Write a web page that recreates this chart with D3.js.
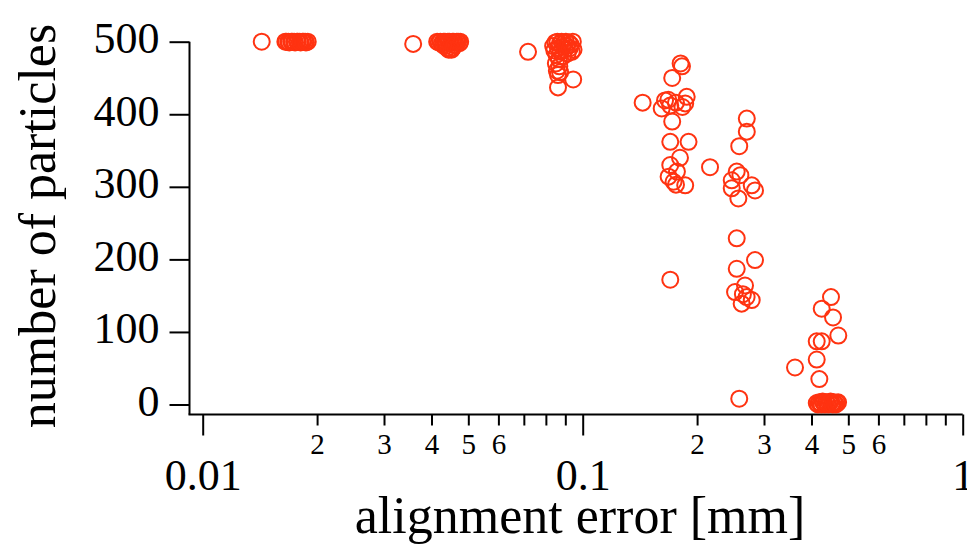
<!DOCTYPE html>
<html>
<head>
<meta charset="utf-8">
<script src="https://cdn.jsdelivr.net/npm/d3@7/dist/d3.min.js"></script>
<style>
  html, body { margin: 0; padding: 0; background: #fff; }
  svg { display: block; }
  text { font-family: "Liberation Serif", "Times New Roman", serif; fill: #000; }
</style>
</head>
<body>
<svg id="chart" width="967" height="547"></svg>
<script>
// ---- data: [alignment error (mm), number of particles] ----
const run1 = [[0.0143,500],[0.0165,500],[0.0166,500],[0.0168,500],[0.0169,499],[0.0171,500],[0.0172,500],
  [0.0174,500],[0.0175,499],[0.0177,500],[0.0178,500],[0.0180,500],[0.0181,499],[0.0183,500],[0.0184,500],
  [0.0186,500],[0.0187,499],[0.0189,500]];
const run2 = [[0.0358,497],[0.0414,500],[0.0418,499],[0.0422,500],[0.0426,498],[0.0430,500],[0.0434,500],
  [0.0438,499],[0.0442,500],[0.0446,500],[0.0450,498],[0.0454,500],[0.0458,500],[0.0462,499],[0.0466,500],
  [0.0470,500],[0.0474,498],[0.0476,500],[0.0436,494],[0.0440,491],[0.0444,489],[0.0448,490],[0.0452,489],
  [0.0456,492],[0.0430,495],[0.0460,495]];
const run3 = [[0.0718,486],[0.0836,494],[0.0842,488],[0.0848,499],[0.0853,482],[0.0858,500],[0.0862,491],
  [0.0866,476],[0.0870,497],[0.0875,486],[0.0880,500],[0.0884,493],[0.0889,480],[0.0893,498],[0.0898,489],
  [0.0903,500],[0.0908,494],[0.0913,484],[0.0918,499],[0.0924,491],[0.0930,496],[0.0936,486],[0.0942,500],
  [0.0946,489],[0.0850,470],[0.0868,466],[0.0855,460],[0.0861,454],[0.0872,458],[0.0861,437],[0.0944,448]];
const run4 = [[0.1438,416],[0.1614,408],[0.1647,419],[0.1680,420],[0.1700,412],[0.1760,416],[0.1830,410],
  [0.1878,424],[0.1861,415],[0.1720,390],[0.1720,450],[0.1810,470],[0.1825,466],[0.1700,362],[0.1899,362],
  [0.1803,340],[0.1700,330],[0.1770,321],[0.1683,314],[0.1734,307],[0.1861,302],[0.1760,303],[0.2163,327],
  [0.1700,172]];
const run5 = [[0.2703,394],[0.2703,376],[0.2582,356],[0.2543,321],[0.2600,316],[0.2467,309],[0.2467,298],
  [0.2785,302],[0.2841,295],[0.2568,284],[0.2543,229],[0.2841,199],[0.2543,187],[0.2517,155],[0.2674,164],
  [0.2620,139],[0.2785,144],[0.2700,148],[0.2640,152],[0.2582,8]];
const run6 = [[0.3620,51],[0.4502,148],[0.4256,132],[0.4558,120],[0.4706,95],[0.4129,87],[0.4256,87],
  [0.4129,62],[0.4195,35],[0.413,2],[0.416,0],[0.419,3],[0.422,1],[0.425,0],[0.428,4],[0.431,2],[0.434,0],
  [0.437,3],[0.440,1],[0.443,0],[0.446,2],[0.449,4],[0.452,1],[0.455,0],[0.458,3],[0.461,1],[0.464,0],
  [0.467,2],[0.470,3]];

const yTicks = [0, 100, 200, 300, 400, 500];
const xMajorTicks = [0.01, 0.1, 1];
const xMajorLabels = ["0.01", "0.1", "1"];
const xMinorTicks = [0.02,0.03,0.04,0.05,0.06,0.07,0.08,0.09,0.2,0.3,0.4,0.5,0.6,0.7,0.8,0.9];
const xMinorLabels = ["2","3","4","5","6","","","","2","3","4","5","6","","",""];
const xTitle = "alignment error [mm]";
const yTitle = "number of particles";

// ---- layout ----
const svg = d3.select("#chart");
const x = d3.scaleLog().domain([0.01, 1]).range([202.7, 962.7]);
const y = d3.scaleLinear().domain([0, 500]).range([404.5, 41.7]);
const axisX = 189.5, axisY = 414.5;
const color = "#ff3311";

// axis lines
svg.append("line").attr("x1", axisX).attr("x2", axisX)
  .attr("y1", y(500)).attr("y2", axisY).attr("stroke", "#000").attr("stroke-width", 2);
svg.append("line").attr("x1", axisX - 1).attr("x2", x(1))
  .attr("y1", axisY).attr("y2", axisY).attr("stroke", "#000").attr("stroke-width", 2);

// y axis
const gy = svg.append("g").attr("transform", `translate(${axisX},0)`)
  .call(d3.axisLeft(y).tickValues(yTicks).tickSize(20).tickSizeOuter(0).tickFormat(d3.format("d")));
gy.select(".domain").remove();
gy.selectAll(".tick line").attr("stroke", "#000").attr("stroke-width", 2);
gy.selectAll(".tick text").attr("x", -30).attr("dy", null).attr("y", 11)
  .style("font-size", "44px").style("font-family", "'Liberation Serif', serif").attr("fill", "#000");

// x axis: minor
const gxm = svg.append("g").attr("transform", `translate(0,${axisY})`)
  .call(d3.axisBottom(x).tickValues(xMinorTicks).tickSize(11).tickSizeOuter(0)
    .tickFormat((d, i) => xMinorLabels[i]));
gxm.select(".domain").remove();
gxm.selectAll(".tick line").attr("stroke", "#000").attr("stroke-width", 2);
gxm.selectAll(".tick text").attr("dy", null).attr("y", 39.5)
  .style("font-size", "29px").style("font-family", "'Liberation Serif', serif").attr("fill", "#000");

// x axis: major
const gxM = svg.append("g").attr("transform", `translate(0,${axisY})`)
  .call(d3.axisBottom(x).tickValues(xMajorTicks).tickSize(21).tickSizeOuter(0)
    .tickFormat((d, i) => xMajorLabels[i]));
gxM.select(".domain").remove();
gxM.selectAll(".tick line").attr("stroke", "#000").attr("stroke-width", 2);
gxM.selectAll(".tick text").attr("dy", null).attr("y", 75.5)
  .style("font-size", "44px").style("font-family", "'Liberation Serif', serif").attr("fill", "#000");

// titles
svg.append("text").attr("x", 580).attr("y", 533).attr("text-anchor", "middle")
  .style("font-size", "52px").text(xTitle);
svg.append("text").attr("transform", "translate(55,226) rotate(-90)").attr("text-anchor", "middle")
  .style("font-size", "52px").text(yTitle);

// points
const allRuns = [run1, run2, run3, run4, run5, run6];
svg.append("g").selectAll("g").data(allRuns).join("g")
  .selectAll("circle").data(d => d).join("circle")
  .attr("cx", d => x(d[0])).attr("cy", d => y(d[1])).attr("r", 8)
  .attr("fill", "none").attr("stroke", color).attr("stroke-width", 2);
</script>
</body>
</html>
